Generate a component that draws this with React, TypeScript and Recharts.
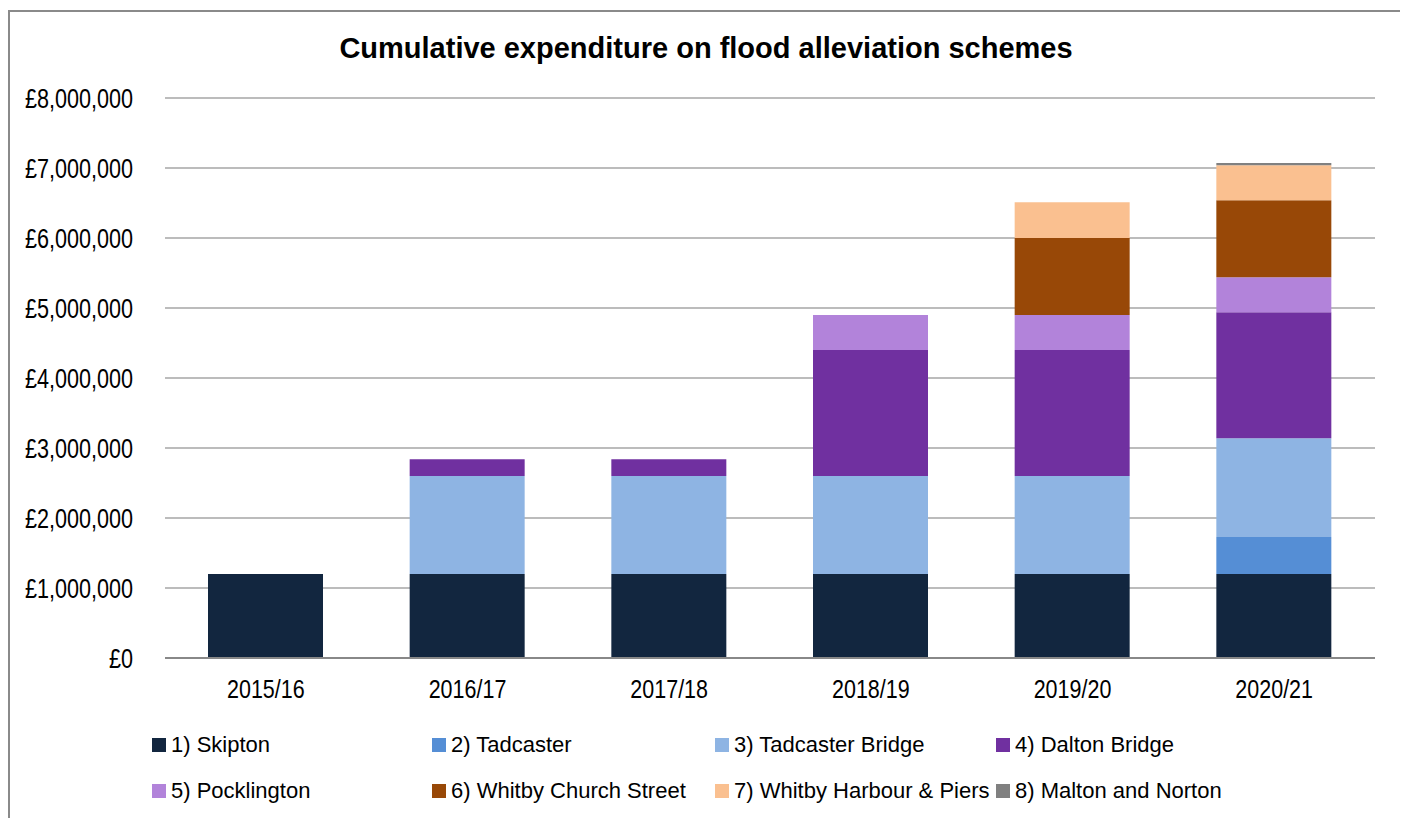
import { BarChart, Bar, XAxis, YAxis, CartesianGrid } from "recharts";

const years = ["2015/16", "2016/17", "2017/18", "2018/19", "2019/20", "2020/21"];

// cumulative spend per scheme, £
const skipton = [1200000, 1200000, 1200000, 1200000, 1200000, 1200000];
const tadcaster = [0, 0, 0, 0, 0, 530000];
const tadcasterBridge = [0, 1400000, 1400000, 1400000, 1400000, 1410000];
const daltonBridge = [0, 240000, 240000, 1800000, 1800000, 1800000];
const pocklington = [0, 0, 0, 500000, 500000, 500000];
const whitbyChurchSt = [0, 0, 0, 0, 1100000, 1100000];
const whitbyHarbour = [0, 0, 0, 0, 510000, 500000];
const maltonNorton = [0, 0, 0, 0, 0, 30000];

const yTicks = [0, 1000000, 2000000, 3000000, 4000000, 5000000, 6000000, 7000000, 8000000];

const series = [
  { key: "s1", name: "1) Skipton", color: "#12263F", values: skipton },
  { key: "s2", name: "2) Tadcaster", color: "#558ED5", values: tadcaster },
  { key: "s3", name: "3) Tadcaster Bridge", color: "#8EB4E3", values: tadcasterBridge },
  { key: "s4", name: "4) Dalton Bridge", color: "#7030A0", values: daltonBridge },
  { key: "s5", name: "5) Pocklington", color: "#B283DA", values: pocklington },
  { key: "s6", name: "6) Whitby Church Street", color: "#984807", values: whitbyChurchSt },
  { key: "s7", name: "7) Whitby Harbour & Piers", color: "#FAC090", values: whitbyHarbour },
  { key: "s8", name: "8) Malton and Norton", color: "#808080", values: maltonNorton },
];

const data = years.map((year, i) => {
  const row: Record<string, string | number> = { year };
  series.forEach((s) => {
    row[s.key] = s.values[i];
  });
  return row;
});

const font = "'Liberation Sans', Arial, sans-serif";
const legendCols = [142, 422, 705, 986];
const legendRows = [733, 779];

const money = (v: number) => "£" + v.toLocaleString("en-GB");

// the axis text in the original is a tall, narrow face
function YTick(props: any) {
  const { x, y, payload } = props;
  return (
    <g transform={`translate(${x},${y})`}>
      <text transform="scale(0.8,1)" textAnchor="end" dy="0.355em" fontSize={27} fontFamily={font} fill="#000">
        {money(payload.value)}
      </text>
    </g>
  );
}

function XTick(props: any) {
  const { x, y, payload } = props;
  return (
    <g transform={`translate(${x},${y})`}>
      <text transform="scale(0.86,1)" textAnchor="middle" dy="0.71em" fontSize={25} fontFamily={font} fill="#000">
        {payload.value}
      </text>
    </g>
  );
}

export default function App() {
  return (
    <div
      style={{
        position: "relative",
        width: 1396,
        height: 830,
        border: "2px solid #8a8a8a",
        boxSizing: "border-box",
        marginTop: 2,
        background: "#fff",
        fontFamily: font,
      }}
    >
      <div
        style={{
          position: "absolute",
          top: 20,
          left: 0,
          width: 1392,
          textAlign: "center",
          fontWeight: 700,
          fontSize: 29,
          color: "#000",
        }}
      >
        Cumulative expenditure on flood alleviation schemes
      </div>
      <div style={{ position: "absolute", top: 0, left: 0 }}>
        <BarChart
          width={1392}
          height={700}
          data={data}
          margin={{ top: 86, right: 27, left: 0, bottom: 24 }}
        >
          <CartesianGrid vertical={false} stroke="#a6a6a6" strokeWidth={1.5} />
          <XAxis
            dataKey="year"
            height={30}
            tickLine={false}
            tickSize={0}
            tickMargin={22}
            axisLine={{ stroke: "#888", strokeWidth: 2 }}
            tick={<XTick />}
          />
          <YAxis
            width={155}
            domain={[0, 8000000]}
            ticks={yTicks}
            axisLine={false}
            tickLine={false}
            tickSize={0}
            tickMargin={32}
            tick={<YTick />}
          />
          {series.map((s) => (
            <Bar
              key={s.key}
              dataKey={s.key}
              name={s.name}
              stackId="a"
              fill={s.color}
              barSize={115}
              isAnimationActive={false}
            />
          ))}
        </BarChart>
      </div>
      {series.map((s, i) => (
        <div
          key={s.key}
          style={{
            position: "absolute",
            left: legendCols[i % 4],
            top: legendRows[Math.floor(i / 4)] - 14,
            height: 28,
            display: "flex",
            alignItems: "center",
            fontSize: 22,
            color: "#000",
            whiteSpace: "nowrap",
          }}
        >
          <span
            style={{
              display: "inline-block",
              width: 14,
              height: 14,
              background: s.color,
              marginRight: 5,
            }}
          />
          {s.name}
        </div>
      ))}
    </div>
  );
}
